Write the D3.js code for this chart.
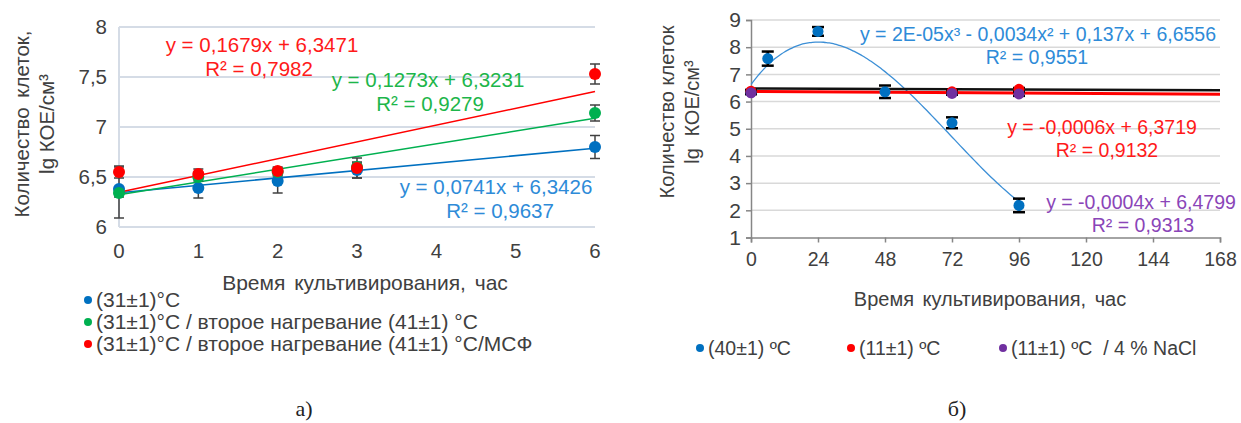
<!DOCTYPE html>
<html lang="ru">
<head>
<meta charset="utf-8">
<script src="https://cdn.jsdelivr.net/npm/d3@7"></script>
<style>
  html, body { margin: 0; padding: 0; background: #fff; }
  svg { display: block; font-family: "Liberation Sans", Arial, sans-serif; }
</style>
</head>
<body>
<svg id="chart" width="1241" height="423"></svg>
<script>
// ---------- Panel а): growth at (31±1)°C, 0–6 h ----------
const hoursA = [0, 1, 2, 3, 6];
const blueA  = [6.38, 6.39, 6.46, 6.57, 6.80];
const blueAErrLo = [0.29, 0.10, 0.12, 0.08, 0.115];
const blueAErrHi = [0.22, 0.10, 0.12, 0.08, 0.115];
const greenA = [6.34, 6.50, 6.55, 6.60, 7.14];
const greenAErr = [0.04, 0.04, 0.04, 0.04, 0.08];
const redA   = [6.55, 6.53, 6.56, 6.59, 7.53];
const redAErr = [0.06, 0.05, 0.04, 0.10, 0.10];
// linear trend coefficients [slope, intercept]
const trendBlueA  = [0.0741, 6.3426];
const trendGreenA = [0.1273, 6.3231];
const trendRedA   = [0.1679, 6.3471];
const ticksXA = [0, 1, 2, 3, 4, 5, 6];
const ticksYA = [6, 6.5, 7, 7.5, 8];
const legendA = ["(31±1)°C", "(31±1)°C / второе нагревание  (41±1) °C", "(31±1)°C / второе нагревание  (41±1) °C/МСФ"];

// ---------- Panel б): survival at 40 °C and 11 °C, 0–168 h ----------
const hoursB = [0, 6, 24, 48, 72, 96];
const blueB  = [6.35, 7.58, 8.58, 6.36, 5.22, 2.18];
const blueBErr = [0.05, 0.26, 0.16, 0.23, 0.20, 0.25];
const hoursB2 = [0, 72, 96];
const redB   = [6.38, 6.36, 6.45];
const redBErr = [0.05, 0.05, 0.05];
const purpleB = [6.32, 6.30, 6.28];
const purpleBErr = [0.05, 0.05, 0.07];
const trendRedB    = [-0.0006, 6.3719];
const trendPurpleB = [-0.0004, 6.4799];
const ticksXB = [0, 24, 48, 72, 96, 120, 144, 168];
const ticksYB = [1, 2, 3, 4, 5, 6, 7, 8, 9];
const legendB = ["(40±1) ºC", "(11±1) ºC", "(11±1) ºC  / 4 % NaCl"];

const C = { blue: "#0070C0", green: "#00B050", red: "#FF0000", purple: "#7030A0",
            blueTxt: "#2E8BD8", greenTxt: "#1DB64A", redTxt: "#FF1A1A", purpleTxt: "#8A45B8" };

const svg = d3.select("#chart");
const fmt = v => String(v).replace(".", ",");

// ======================= Panel а) =======================
const xA = d3.scaleLinear().domain([0, 6]).range([119, 595]);
const yA = d3.scaleLinear().domain([6, 8]).range([227, 27]);
const gA = svg.append("g");

gA.selectAll("line.grid").data(ticksYA).join("line")
  .attr("x1", xA(0)).attr("x2", xA(6))
  .attr("y1", d => yA(d)).attr("y2", d => yA(d))
  .attr("stroke", "#D5DCE6").attr("stroke-width", 2);
gA.append("line").attr("x1", xA(0)).attr("x2", xA(0)).attr("y1", yA(8)).attr("y2", yA(6))
  .attr("stroke", "#D5DCE6").attr("stroke-width", 2);

gA.selectAll("text.ty").data(ticksYA).join("text")
  .attr("x", 107).attr("y", d => yA(d) + 7).attr("text-anchor", "end")
  .attr("font-size", 20.5).attr("fill", "#404040").text(d => fmt(d));
gA.selectAll("text.tx").data(ticksXA).join("text")
  .attr("x", d => xA(d)).attr("y", 258).attr("text-anchor", "middle")
  .attr("font-size", 20.5).attr("fill", "#404040").text(d => d);

gA.append("text").attr("x", 365).attr("y", 290).attr("text-anchor", "middle")
  .attr("font-size", 21).attr("fill", "#404040").attr("word-spacing", 3)
  .text("Время культивирования, час");

const yTitleA = gA.append("text").attr("transform", "translate(29,124) rotate(-90)")
  .attr("text-anchor", "middle").attr("font-size", 20.5).attr("fill", "#404040");
yTitleA.append("tspan").attr("x", 0).attr("dy", 0).attr("word-spacing", 4).text("Количество клеток,");
yTitleA.append("tspan").attr("x", 0).attr("dy", 25).text("lg КОЕ/см³");

// trend lines
const lineTrend = (g, xs, ys, coef, x0, x1, color, w) => {
  g.append("line")
    .attr("x1", xs(x0)).attr("y1", ys(coef[0] * x0 + coef[1]))
    .attr("x2", xs(x1)).attr("y2", ys(coef[0] * x1 + coef[1]))
    .attr("stroke", color).attr("stroke-width", w);
};
lineTrend(gA, xA, yA, trendBlueA, 0, 6, C.blue, 1.6);
lineTrend(gA, xA, yA, trendGreenA, 0, 6, C.green, 1.6);
lineTrend(gA, xA, yA, trendRedA, 0, 6, C.red, 1.6);

// error bars
function errBars(g, xs, ys, xsData, vals, lo, hi, color, cap, w) {
  const d = xsData.map((x, i) => ({ x, v: vals[i], lo: lo[i], hi: hi[i] }));
  const eg = g.append("g").attr("stroke", color).attr("stroke-width", w);
  eg.selectAll("line.v").data(d).join("line")
    .attr("x1", p => xs(p.x)).attr("x2", p => xs(p.x))
    .attr("y1", p => ys(p.v - p.lo)).attr("y2", p => ys(p.v + p.hi));
  eg.selectAll("line.lo").data(d).join("line")
    .attr("x1", p => xs(p.x) - cap).attr("x2", p => xs(p.x) + cap)
    .attr("y1", p => ys(p.v - p.lo)).attr("y2", p => ys(p.v - p.lo));
  eg.selectAll("line.hi").data(d).join("line")
    .attr("x1", p => xs(p.x) - cap).attr("x2", p => xs(p.x) + cap)
    .attr("y1", p => ys(p.v + p.hi)).attr("y2", p => ys(p.v + p.hi));
}
function dots(g, xs, ys, xsData, vals, color, r) {
  g.append("g").selectAll("circle").data(xsData.map((x, i) => [x, vals[i]])).join("circle")
    .attr("cx", p => xs(p[0])).attr("cy", p => ys(p[1])).attr("r", r).attr("fill", color);
}

errBars(gA, xA, yA, hoursA, blueA, blueAErrLo, blueAErrHi, "#404040", 5, 1.5);
errBars(gA, xA, yA, hoursA, greenA, greenAErr, greenAErr, "#404040", 5, 1.5);
errBars(gA, xA, yA, hoursA, redA, redAErr, redAErr, "#404040", 5, 1.5);
dots(gA, xA, yA, hoursA, blueA, C.blue, 6);
dots(gA, xA, yA, hoursA, greenA, C.green, 6);
dots(gA, xA, yA, hoursA, redA, C.red, 6);

// trend equation labels: equation line plus R² line
const eqText = (g, x, y, color, lines, size) => {
  const t = g.append("text").attr("text-anchor", "middle")
    .attr("font-size", size).attr("fill", color);
  lines.forEach((s, i) => t.append("tspan").attr("x", x[i]).attr("y", y[i]).text(s));
};
eqText(gA, [262, 259], [52, 76], C.redTxt,
  [`y = ${fmt(trendRedA[0])}x + ${fmt(trendRedA[1])}`, "R² = 0,7982"], 20.5);
eqText(gA, [428, 430], [87, 111], C.greenTxt,
  [`y = ${fmt(trendGreenA[0])}x + ${fmt(trendGreenA[1])}`, "R² = 0,9279"], 20.5);
eqText(gA, [496, 500], [194, 218], C.blueTxt,
  [`y = ${fmt(trendBlueA[0])}x + ${fmt(trendBlueA[1])}`, "R² = 0,9637"], 20.5);

// legend
const colA = [C.blue, C.green, C.red];
legendA.forEach((t, i) => {
  const yy = 300 + i * 22;
  gA.append("circle").attr("cx", 88).attr("cy", yy).attr("r", 4).attr("fill", colA[i]);
  gA.append("text").attr("x", 96).attr("y", yy + 7).attr("font-size", 21)
    .attr("fill", "#404040").text(t);
});
svg.append("text").attr("x", 304).attr("y", 416).attr("text-anchor", "middle")
  .attr("font-family", "Liberation Serif, Times New Roman, serif").attr("font-size", 22)
  .attr("fill", "#222").text("а)");

// ======================= Panel б) =======================
const xB = d3.scaleLinear().domain([0, 168]).range([751, 1220]);
const yB = d3.scaleLinear().domain([1, 9]).range([237.5, 20]);
const gB = svg.append("g");

gB.selectAll("line.grid").data(ticksYB.slice(1)).join("line")
  .attr("x1", xB(0)).attr("x2", xB(168))
  .attr("y1", d => yB(d)).attr("y2", d => yB(d))
  .attr("stroke", "#D9D9D9").attr("stroke-width", 1.5);

const axX = d3.axisBottom(xB).tickValues(ticksXB).tickSize(5).tickFormat(d => d);
const gx = gB.append("g").attr("transform", `translate(0,${yB(1)})`).call(axX);
gx.select(".domain").attr("stroke", "#868686").attr("stroke-width", 1.5);
gx.selectAll(".tick line").attr("stroke", "#868686").attr("stroke-width", 1.5);
gx.selectAll(".tick text").attr("font-size", 19.5).attr("fill", "#404040")
  .attr("font-family", "Liberation Sans, Arial, sans-serif").attr("dy", "1.05em");

const axY = d3.axisLeft(yB).tickValues(ticksYB).tickSize(5).tickFormat(d => d);
const gy = gB.append("g").attr("transform", `translate(${xB(0)},0)`).call(axY);
gy.select(".domain").attr("stroke", "#868686").attr("stroke-width", 1.5);
gy.selectAll(".tick line").attr("stroke", "#868686").attr("stroke-width", 1.5);
gy.selectAll(".tick text").attr("font-size", 21).attr("fill", "#404040")
  .attr("font-family", "Liberation Sans, Arial, sans-serif").attr("x", -10);

gB.append("text").attr("x", 990).attr("y", 306).attr("text-anchor", "middle")
  .attr("font-size", 20).attr("fill", "#404040").attr("word-spacing", 3)
  .text("Время культивирования, час");

const yTitleB = gB.append("text").attr("transform", "translate(674,112) rotate(-90)")
  .attr("text-anchor", "middle").attr("font-size", 20).attr("fill", "#404040");
yTitleB.append("tspan").attr("x", 0).attr("dy", 0).text("Количество клеток");
yTitleB.append("tspan").attr("x", 0).attr("dy", 25).attr("word-spacing", 6).text("lg КОЕ/см³");

// cubic least-squares trend for the 40 °C series
function polyFit(xs, ys, deg) {
  const n = deg + 1;
  const A = Array.from({ length: n }, () => new Array(n + 1).fill(0));
  xs.forEach((x, k) => {
    for (let i = 0; i < n; i++) {
      for (let j = 0; j < n; j++) A[i][j] += Math.pow(x, i + j);
      A[i][n] += ys[k] * Math.pow(x, i);
    }
  });
  for (let c = 0; c < n; c++) {
    let p = c;
    for (let r = c + 1; r < n; r++) if (Math.abs(A[r][c]) > Math.abs(A[p][c])) p = r;
    [A[c], A[p]] = [A[p], A[c]];
    for (let r = 0; r < n; r++) {
      if (r === c) continue;
      const f = A[r][c] / A[c][c];
      for (let k = c; k <= n; k++) A[r][k] -= f * A[c][k];
    }
  }
  return A.map((row, i) => row[n] / A[i][i]);
}
const cubic = polyFit(hoursB, blueB, 3);
const cubicAt = x => cubic[0] + cubic[1] * x + cubic[2] * x * x + cubic[3] * x * x * x;
const curvePts = d3.range(0, 96.01, 1).map(x => [x, cubicAt(x)]);
gB.append("path").datum(curvePts)
  .attr("d", d3.line().x(p => xB(p[0])).y(p => yB(p[1])).curve(d3.curveMonotoneX))
  .attr("fill", "none").attr("stroke", "#3C8FD6").attr("stroke-width", 1.3);

lineTrend(gB, xB, yB, trendRedB, 0, 168, C.red, 3);
lineTrend(gB, xB, yB, trendPurpleB, 0, 168, "#111111", 2.5);

errBars(gB, xB, yB, hoursB, blueB, blueBErr, blueBErr, "#000", 6, 2.5);
errBars(gB, xB, yB, hoursB2, redB, redBErr, redBErr, "#000", 6, 2.5);
errBars(gB, xB, yB, hoursB2, purpleB, purpleBErr, purpleBErr, "#000", 6, 2.5);
dots(gB, xB, yB, hoursB, blueB, C.blue, 5.5);
dots(gB, xB, yB, hoursB2, redB, C.red, 5.5);
dots(gB, xB, yB, hoursB2, purpleB, C.purple, 5.5);

eqText(gB, [1038, 1037], [41, 64], C.blueTxt,
  ["y = 2E-05x³ - 0,0034x² + 0,137x + 6,6556", "R² = 0,9551"], 19.5);
eqText(gB, [1102, 1107], [134, 157], C.redTxt,
  [`y = ${fmt(trendRedB[0])}x + ${fmt(trendRedB[1])}`, "R² = 0,9132"], 19.5);
eqText(gB, [1141, 1143], [209, 232], C.purpleTxt,
  [`y = ${fmt(trendPurpleB[0])}x + ${fmt(trendPurpleB[1])}`, "R² = 0,9313"], 19.5);

const colB = [C.blue, C.red, C.purple];
const legXB = [700, 851, 1003];
legendB.forEach((t, i) => {
  gB.append("circle").attr("cx", legXB[i]).attr("cy", 348).attr("r", 4).attr("fill", colB[i]);
  gB.append("text").attr("x", legXB[i] + 8).attr("y", 355).attr("font-size", 19.5)
    .attr("fill", "#404040").attr("xml:space", "preserve").style("white-space", "pre").text(t);
});
svg.append("text").attr("x", 957).attr("y", 416).attr("text-anchor", "middle")
  .attr("font-family", "Liberation Serif, Times New Roman, serif").attr("font-size", 22)
  .attr("fill", "#222").text("б)");
</script>
</body>
</html>
